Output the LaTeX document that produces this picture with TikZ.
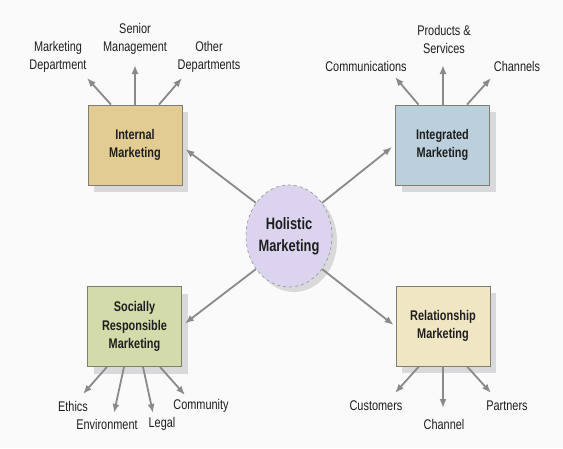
\documentclass[tikz,border=0pt]{standalone}
\usepackage{fontspec}
\setmainfont[FakeStretch=0.78]{Liberation Sans}
\usetikzlibrary{shadows,arrows.meta,shapes.geometric}
\definecolor{bg}{HTML}{FAFAFA}
\definecolor{arrowgray}{HTML}{8A8A8A}
\definecolor{boxborder}{HTML}{7E7E72}
\definecolor{intfill}{HTML}{E2CC94}
\definecolor{integfill}{HTML}{BBD0DC}
\definecolor{socfill}{HTML}{D3DBAA}
\definecolor{relfill}{HTML}{F0E6C4}
\definecolor{holfill}{HTML}{DCD4EE}
\definecolor{shade}{HTML}{D9D9DC}
\definecolor{txt}{HTML}{1E1E1E}
\tikzset{
  x=1pt, y=-1pt,
  arr/.style={draw=arrowgray, line width=1.8pt, -{Latex[length=9pt,width=7pt]}},
  mbox/.style={draw=boxborder, line width=0.8pt, minimum width=94pt, minimum height=80pt,
    align=center, font=\fontsize{14}{18.5}\selectfont\bfseries, text=txt, inner sep=0pt,
    drop shadow={shadow xshift=6pt, shadow yshift=-7pt, fill=shade, opacity=1}},
  lbl/.style={align=center, font=\fontsize{14}{18}\selectfont, text=txt, inner sep=0pt},
}
\begin{document}
\begin{tikzpicture}
\fill[bg] (0,0) rectangle (563,448);
\useasboundingbox (0,0) rectangle (563,448);

% central ellipse
\node[ellipse, draw=gray!85, dashed, line width=0.6pt, fill=holfill,
      minimum width=86pt, minimum height=102pt, inner sep=0pt, align=center,
      font=\fontsize{16.5}{22}\selectfont\bfseries, text=txt,
      drop shadow={shadow xshift=5pt, shadow yshift=-5pt, fill=shade, opacity=1}]
      (hol) at (289,236) {Holistic\\Marketing};

% four boxes
\node[mbox, fill=intfill]   (int)   at (135,145)   {Internal\\Marketing};
\node[mbox, fill=integfill] (integ) at (442.5,145) {Integrated\\Marketing};
\node[mbox, fill=socfill]   (soc)   at (134.5,326.5) {Socially\\Responsible\\Marketing};
\node[mbox, fill=relfill]   (rel)   at (443,326)   {Relationship\\Marketing};

% arrows from centre
\draw[arr] (hol.135) -- ([shift={(3,4)}]int.east);
\draw[arr] (hol.45)  -- ([shift={(-3,2)}]integ.west);
\draw[arr] (hol.225) -- ([shift={(3,-3)}]soc.east);
\draw[arr] (hol.-45) -- ([shift={(-2,-1)}]rel.west);

% Internal marketing labels
\node[lbl] (mktdep) at (58,57)  {Marketing\\Department};
\node[lbl] (senior) at (135,39) {Senior\\Management};
\node[lbl] (other)  at (209,57) {Other\\Departments};
\coordinate (t1) at (87,78);
\coordinate (t2) at (135,65);
\coordinate (t3) at (182,78);
\draw[arr] ([xshift=-24pt]int.north) -- (t1);
\draw[arr] (int.north) -- (t2);
\draw[arr] ([xshift=24pt]int.north) -- (t3);

% Integrated marketing labels
\node[lbl] (comm) at (366,66) {Communications};
\node[lbl] (prod) at (444,39) {Products \&\\Services};
\node[lbl] (chan) at (517,66) {Channels};
\coordinate (t4) at (395,77);
\coordinate (t5) at (443,65);
\coordinate (t6) at (491,78);
\draw[arr] ([xshift=-24pt]integ.north) -- (t4);
\draw[arr] ([xshift=0.5pt]integ.north) -- (t5);
\draw[arr] ([xshift=24.5pt]integ.north) -- (t6);

% Socially responsible labels
\node[lbl] (ethics) at (73,406)  {Ethics};
\node[lbl] (env)    at (107,424) {Environment};
\node[lbl] (legal)  at (162,424) {Legal};
\node[lbl] (commun) at (201,406) {Community};
\coordinate (t7)  at (83,394);
\coordinate (t8)  at (114,413);
\coordinate (t9)  at (153,413);
\coordinate (t10) at (185,395);
\draw[arr] ([xshift=-27.5pt]soc.south) -- (t7);
\draw[arr] ([xshift=-10.5pt]soc.south) -- (t8);
\draw[arr] ([xshift=8.5pt]soc.south) -- (t9);
\draw[arr] ([xshift=25.5pt]soc.south) -- (t10);

% Relationship labels
\node[lbl] (cust)    at (376,406) {Customers};
\node[lbl] (channel) at (444,424) {Channel};
\node[lbl] (part)    at (507,406) {Partners};
\coordinate (t11) at (395,393);
\coordinate (t12) at (443,408);
\coordinate (t13) at (491,393);
\draw[arr] ([xshift=-24pt]rel.south) -- (t11);
\draw[arr] (rel.south) -- (t12);
\draw[arr] ([xshift=24pt]rel.south) -- (t13);
\end{tikzpicture}
\end{document}
